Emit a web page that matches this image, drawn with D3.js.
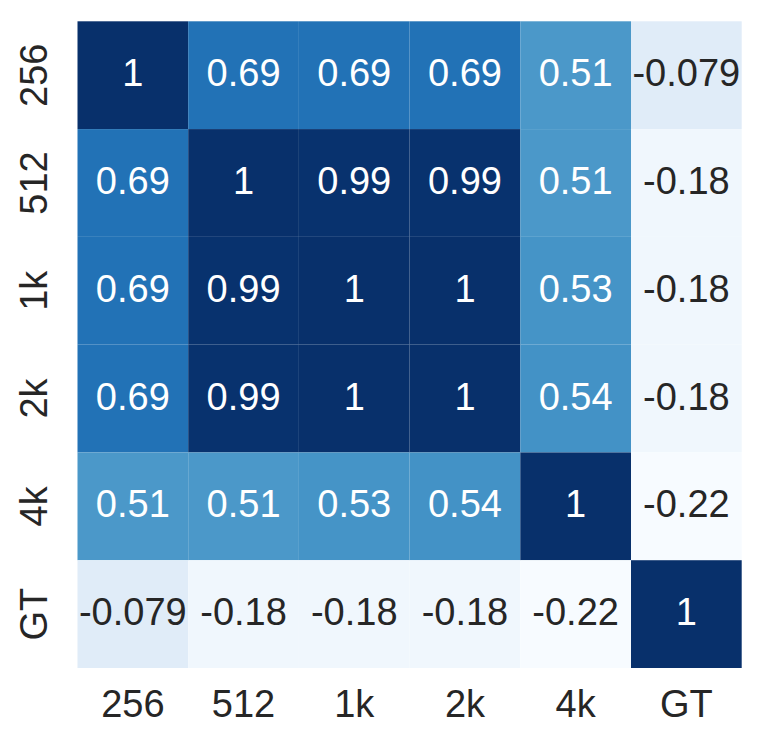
<!DOCTYPE html>
<html><head><meta charset="utf-8">
<script src="https://cdn.jsdelivr.net/npm/d3@7"></script>
<style>body{margin:0;background:#fff}svg{display:block}</style>
</head><body>
<script>
const labels = ["256", "512", "1k", "2k", "4k", "GT"];
const values = [
  [1, 0.69, 0.69, 0.69, 0.51, -0.079],
  [0.69, 1, 0.99, 0.99, 0.51, -0.18],
  [0.69, 0.99, 1, 1, 0.53, -0.18],
  [0.69, 0.99, 1, 1, 0.54, -0.18],
  [0.51, 0.51, 0.53, 0.54, 1, -0.22],
  [-0.079, -0.18, -0.18, -0.18, -0.22, 1]
];
const valueLabels = [
  ["1", "0.69", "0.69", "0.69", "0.51", "-0.079"],
  ["0.69", "1", "0.99", "0.99", "0.51", "-0.18"],
  ["0.69", "0.99", "1", "1", "0.53", "-0.18"],
  ["0.69", "0.99", "1", "1", "0.54", "-0.18"],
  ["0.51", "0.51", "0.53", "0.54", "1", "-0.22"],
  ["-0.079", "-0.18", "-0.18", "-0.18", "-0.22", "1"]
];
const bluesStops = ["#f7fbff","#deebf7","#c6dbef","#9ecae1","#6baed6","#4292c6","#2171b5","#08519c","#08306b"];

(function () {
const W = 763, H = 746;
const mLeft = 77.5, mRight = 741.7, mTop = 21.3, mBottom = 668;
const svg = d3.select("body").append("svg").attr("width", W).attr("height", H);

const x = d3.scaleBand().domain(labels).range([mLeft, mRight]).padding(0);
const y = d3.scaleBand().domain(labels).range([mTop, mBottom]).padding(0);

const flat = values.flat();
const vmin = d3.min(flat), vmax = d3.max(flat);
const color = d3.scaleLinear()
  .domain(bluesStops.map((_, i) => vmin + (vmax - vmin) * i / (bluesStops.length - 1)))
  .range(bluesStops).interpolate(d3.interpolateRgb);

const cells = [];
values.forEach((row, i) => row.forEach((v, j) => cells.push({r: labels[i], c: labels[j], v, t: valueLabels[i][j]})));

svg.append("g").selectAll("rect").data(cells).join("rect")
  .attr("x", d => x(d.c)).attr("y", d => y(d.r))
  .attr("width", x.bandwidth()).attr("height", y.bandwidth())
  .attr("fill", d => color(d.v));

function lum(c) {
  const rgb = d3.rgb(c);
  const f = v => { v /= 255; return v <= 0.03928 ? v / 12.92 : Math.pow((v + 0.055) / 1.055, 2.4); };
  return 0.2126 * f(rgb.r) + 0.7152 * f(rgb.g) + 0.0722 * f(rgb.b);
}

const font = "Arial, 'Liberation Sans', sans-serif";
svg.append("g").selectAll("text").data(cells).join("text")
  .attr("x", d => x(d.c) + x.bandwidth() / 2)
  .attr("y", d => y(d.r) + y.bandwidth() / 2 + 11)
  .attr("text-anchor", "middle")
  .attr("font-family", font).attr("font-size", 38)
  .attr("fill", d => lum(color(d.v)) > 0.408 ? "#262626" : "#ffffff")
  .text(d => d.t);

svg.append("g").selectAll("text").data(labels).join("text")
  .attr("x", d => x(d) + x.bandwidth() / 2)
  .attr("y", 716.5)
  .attr("text-anchor", "middle")
  .attr("font-family", font).attr("font-size", 38)
  .attr("fill", "#262626")
  .text(d => d);

svg.append("g").selectAll("text").data(labels).join("text")
  .attr("transform", d => `translate(47,${y(d) + y.bandwidth() / 2}) rotate(-90)`)
  .attr("text-anchor", "middle")
  .attr("font-family", font).attr("font-size", 38)
  .attr("fill", "#262626")
  .text(d => d);
})();
</script>
</body></html>
